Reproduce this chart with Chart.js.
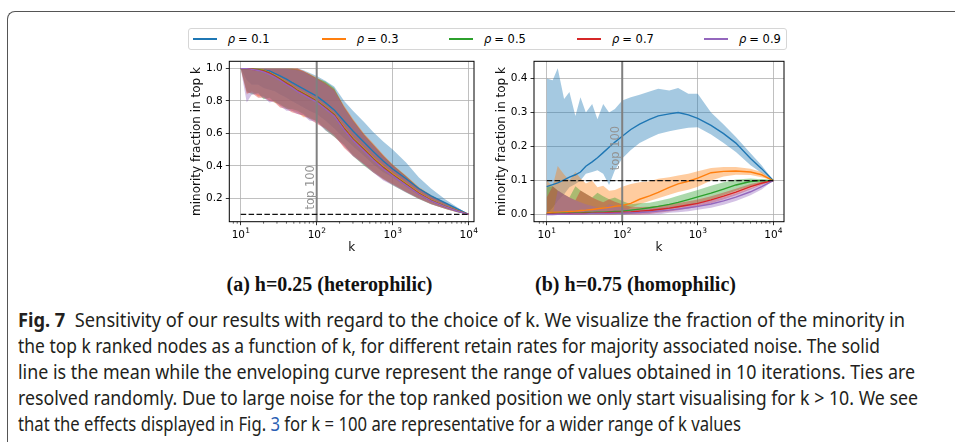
<!DOCTYPE html>
<html>
<head>
<meta charset="utf-8">
<script src="https://cdn.jsdelivr.net/npm/chart.js@4.4.1/dist/chart.umd.min.js"></script>
<style>
  body { margin: 0; width: 955px; height: 442px; overflow: hidden; background: #fff; position: relative; font-family: "DejaVu Sans", sans-serif; }
  .frame { position: absolute; left: 7px; top: 11px; width: 1000px; height: 500px; border-top: 1.3px solid #555; border-left: 1.3px solid #555; border-top-left-radius: 8px; }
  #legend { position: absolute; left: 188px; top: 28px; width: 597px; height: 20px; border: 1px solid #d6d6d6; border-radius: 3px; background: #fff; }
  .item { position: absolute; top: 0; height: 20px; display: flex; align-items: center; font-size: 11.5px; color: #000; white-space: nowrap; }
  .item .sw { width: 24px; height: 1.7px; margin-right: 11px; }
  .item i { margin-right: 3px; }
  canvas { position: absolute; }
  .sub { position: absolute; top: 273px; font-family: "Liberation Serif", serif; font-weight: bold; font-size: 20px; transform: translateX(-50%); white-space: nowrap; color: #111; }
  .cap { position: absolute; left: 18px; font-family: "Liberation Sans Narrow", "Noto Sans", sans-serif; font-size: 19px; line-height: 26px; color: #231f20; white-space: nowrap; transform-origin: 0 0; }
  .cap b { font-weight: bold; }
  .cap .ref { color: #2b5fb4; }
</style>
</head>
<body>
<div class="frame"></div>
<div id="legend"></div>
<canvas id="chartL" width="300" height="210" style="left:180px;top:52px"></canvas>
<canvas id="chartR" width="305" height="210" style="left:485px;top:52px"></canvas>
<div class="sub" style="left:329.5px">(a) h=0.25 (heterophilic)</div>
<div class="sub" style="left:635.5px">(b) h=0.75 (homophilic)</div>
<div class="cap" style="top:307px" data-w="887"><b>Fig. 7</b>&nbsp; Sensitivity of our results with regard to the choice of k. We visualize the fraction of the minority in</div>
<div class="cap" style="top:333px" data-w="862">the top k ranked nodes as a function of k, for different retain rates for majority associated noise. The solid</div>
<div class="cap" style="top:359px" data-w="897">line is the mean while the enveloping curve represent the range of values obtained in 10 iterations. Ties are</div>
<div class="cap" style="top:385px" data-w="900">resolved randomly. Due to large noise for the top ranked position we only start visualising for k &gt; 10. We see</div>
<div class="cap" style="top:411px" data-w="723">that the effects displayed in Fig. <span class="ref">3</span> for k = 100 are representative for a wider range of k values</div>

<script>
// k values (x) shared by both panels
const K = [10, 12, 14, 17, 20, 24, 28, 33, 40, 47, 56, 67, 80, 100, 130, 170, 230, 300, 420, 550, 750, 1000, 1500, 2200, 3200, 5000, 7000, 10000];
const RHO = ['0.1', '0.3', '0.5', '0.7', '0.9'];
const COLORS = ['#1f77b4', '#ff7f0e', '#2ca02c', '#d62728', '#9467bd'];
const MAJOR_K = [10, 100, 1000, 10000];
const MINOR_K = [8, 9, 20, 30, 40, 50, 60, 70, 80, 90, 200, 300, 400, 500, 600, 700, 800, 900, 2000, 3000, 4000, 5000, 6000, 7000, 8000, 9000];
const BASE = 0.1;      // dashed reference level
const TOP_K = 100;     // vertical marker
const TOP_LABEL_Y = 0.13;

// (a) h=0.25 heterophilic
const L_MEAN = [
  [1.0, 1.0, 1.0, 0.995, 0.99, 0.985, 0.97, 0.955, 0.935, 0.915, 0.895, 0.875, 0.855, 0.83, 0.79, 0.745, 0.675, 0.615, 0.545, 0.49, 0.43, 0.38, 0.32, 0.26, 0.215, 0.17, 0.135, 0.1],
  [1.0, 1.0, 0.998, 0.995, 0.99, 0.975, 0.958, 0.938, 0.913, 0.893, 0.868, 0.848, 0.828, 0.803, 0.763, 0.718, 0.635, 0.57, 0.505, 0.45, 0.395, 0.35, 0.29, 0.235, 0.19, 0.15, 0.125, 0.1],
  [1.0, 1.0, 0.997, 0.993, 0.987, 0.972, 0.955, 0.935, 0.91, 0.89, 0.865, 0.845, 0.825, 0.8, 0.76, 0.715, 0.63, 0.565, 0.5, 0.445, 0.39, 0.345, 0.285, 0.23, 0.186, 0.148, 0.123, 0.1],
  [1.0, 1.0, 0.996, 0.99, 0.984, 0.97, 0.952, 0.932, 0.907, 0.887, 0.862, 0.842, 0.822, 0.797, 0.757, 0.712, 0.627, 0.562, 0.497, 0.442, 0.387, 0.342, 0.282, 0.228, 0.185, 0.147, 0.122, 0.1],
  [1.0, 1.0, 0.995, 0.988, 0.98, 0.965, 0.948, 0.927, 0.902, 0.882, 0.858, 0.838, 0.818, 0.793, 0.752, 0.707, 0.622, 0.557, 0.492, 0.437, 0.382, 0.338, 0.279, 0.226, 0.183, 0.146, 0.121, 0.1]
];
const L_HIGH = [
  [1.0, 1.0, 1.0, 1.0, 1.0, 1.0, 1.0, 1.0, 1.0, 1.0, 1.0, 0.99, 0.975, 0.955, 0.925, 0.89, 0.8, 0.74, 0.67, 0.61, 0.55, 0.5, 0.42, 0.33, 0.26, 0.19, 0.145, 0.1],
  [1.0, 1.0, 1.0, 1.0, 1.0, 1.0, 1.0, 1.0, 1.0, 1.0, 1.0, 0.985, 0.97, 0.945, 0.915, 0.875, 0.77, 0.69, 0.6, 0.54, 0.47, 0.41, 0.34, 0.27, 0.22, 0.17, 0.135, 0.1],
  [1.0, 1.0, 1.0, 1.0, 1.0, 1.0, 1.0, 1.0, 1.0, 1.0, 0.995, 0.98, 0.965, 0.94, 0.92, 0.88, 0.76, 0.68, 0.59, 0.53, 0.46, 0.405, 0.335, 0.265, 0.215, 0.168, 0.133, 0.1],
  [1.0, 1.0, 1.0, 1.0, 1.0, 1.0, 1.0, 1.0, 1.0, 1.0, 1.0, 0.985, 0.965, 0.94, 0.91, 0.87, 0.765, 0.685, 0.595, 0.535, 0.465, 0.405, 0.335, 0.265, 0.215, 0.167, 0.132, 0.1],
  [1.0, 1.0, 1.0, 1.0, 1.0, 1.0, 1.0, 1.0, 1.0, 0.995, 0.99, 0.98, 0.96, 0.935, 0.905, 0.865, 0.755, 0.675, 0.585, 0.525, 0.455, 0.4, 0.33, 0.262, 0.212, 0.165, 0.131, 0.1]
];
const L_LOW = [
  [1.0, 0.93, 0.9, 0.9, 0.88, 0.87, 0.86, 0.84, 0.82, 0.8, 0.78, 0.76, 0.74, 0.72, 0.68, 0.63, 0.57, 0.52, 0.46, 0.41, 0.36, 0.33, 0.27, 0.22, 0.18, 0.145, 0.12, 0.1],
  [1.0, 0.84, 0.86, 0.83, 0.83, 0.8, 0.8, 0.77, 0.76, 0.74, 0.73, 0.7, 0.7, 0.67, 0.63, 0.58, 0.52, 0.47, 0.41, 0.37, 0.32, 0.29, 0.24, 0.2, 0.165, 0.135, 0.115, 0.1],
  [1.0, 0.86, 0.84, 0.85, 0.81, 0.82, 0.79, 0.78, 0.75, 0.75, 0.74, 0.72, 0.69, 0.68, 0.62, 0.58, 0.53, 0.46, 0.4, 0.36, 0.32, 0.28, 0.235, 0.195, 0.163, 0.133, 0.114, 0.1],
  [1.0, 0.85, 0.85, 0.82, 0.82, 0.8, 0.79, 0.76, 0.75, 0.73, 0.72, 0.71, 0.69, 0.66, 0.63, 0.59, 0.51, 0.46, 0.41, 0.36, 0.315, 0.285, 0.238, 0.198, 0.164, 0.134, 0.115, 0.1],
  [1.0, 0.79, 0.84, 0.84, 0.82, 0.79, 0.8, 0.77, 0.74, 0.74, 0.72, 0.71, 0.68, 0.67, 0.62, 0.58, 0.52, 0.46, 0.405, 0.36, 0.31, 0.28, 0.235, 0.196, 0.162, 0.133, 0.114, 0.1]
];

// (b) h=0.75 homophilic
const R_MEAN = [
  [0.082, 0.088, 0.093, 0.102, 0.11, 0.117, 0.125, 0.142, 0.155, 0.167, 0.182, 0.198, 0.213, 0.23, 0.25, 0.266, 0.28, 0.29, 0.296, 0.3, 0.293, 0.283, 0.262, 0.238, 0.21, 0.165, 0.135, 0.1],
  [0.005, 0.006, 0.007, 0.008, 0.009, 0.01, 0.012, 0.013, 0.015, 0.017, 0.019, 0.021, 0.024, 0.027, 0.033, 0.045, 0.055, 0.065, 0.08, 0.09, 0.098, 0.107, 0.123, 0.127, 0.128, 0.125, 0.117, 0.1],
  [0.002, 0.003, 0.003, 0.004, 0.004, 0.005, 0.005, 0.006, 0.006, 0.007, 0.007, 0.008, 0.009, 0.01, 0.013, 0.016, 0.02, 0.024, 0.03, 0.036, 0.044, 0.052, 0.063, 0.075, 0.087, 0.097, 0.1, 0.1],
  [0.001, 0.002, 0.002, 0.002, 0.003, 0.003, 0.003, 0.004, 0.004, 0.005, 0.005, 0.006, 0.006, 0.007, 0.008, 0.01, 0.012, 0.015, 0.019, 0.023, 0.028, 0.033, 0.043, 0.054, 0.066, 0.082, 0.092, 0.1],
  [0.0, 0.0, 0.001, 0.001, 0.001, 0.002, 0.002, 0.002, 0.003, 0.003, 0.003, 0.003, 0.004, 0.004, 0.005, 0.006, 0.008, 0.01, 0.013, 0.016, 0.02, 0.024, 0.031, 0.04, 0.051, 0.067, 0.082, 0.1]
];
const R_HIGH = [
  [0.4, 0.395, 0.43, 0.34, 0.36, 0.29, 0.345, 0.3, 0.325, 0.28, 0.325, 0.3, 0.31, 0.335, 0.345, 0.352, 0.362, 0.37, 0.365, 0.372, 0.355, 0.355, 0.3, 0.265, 0.228, 0.18, 0.145, 0.1],
  [0.1, 0.083, 0.143, 0.118, 0.1, 0.125, 0.107, 0.091, 0.1, 0.08, 0.085, 0.07, 0.072, 0.082, 0.09, 0.095, 0.098, 0.105, 0.11, 0.115, 0.12, 0.127, 0.137, 0.14, 0.14, 0.135, 0.125, 0.1],
  [0.08, 0.083, 0.071, 0.059, 0.05, 0.083, 0.071, 0.061, 0.05, 0.064, 0.054, 0.045, 0.05, 0.04, 0.03, 0.033, 0.035, 0.04, 0.047, 0.055, 0.064, 0.072, 0.085, 0.095, 0.103, 0.106, 0.104, 0.1],
  [0.05, 0.083, 0.071, 0.059, 0.05, 0.042, 0.071, 0.061, 0.05, 0.043, 0.036, 0.045, 0.038, 0.03, 0.023, 0.022, 0.023, 0.026, 0.03, 0.034, 0.039, 0.044, 0.054, 0.065, 0.076, 0.09, 0.097, 0.1],
  [0.0, 0.0, 0.071, 0.059, 0.05, 0.042, 0.036, 0.03, 0.025, 0.021, 0.018, 0.03, 0.025, 0.02, 0.015, 0.014, 0.016, 0.019, 0.022, 0.026, 0.03, 0.034, 0.042, 0.051, 0.062, 0.077, 0.089, 0.1]
];
const R_LOW = [
  [0.0, 0.02, 0.04, 0.06, 0.08, 0.09, 0.1, 0.12, 0.125, 0.13, 0.12, 0.087, 0.13, 0.165, 0.19, 0.21, 0.225, 0.237, 0.245, 0.25, 0.255, 0.257, 0.235, 0.21, 0.184, 0.145, 0.122, 0.1],
  [0, 0, 0, 0, 0, 0, 0, 0, 0, 0, 0, 0, 0, 0.005, 0.02, 0.03, 0.04, 0.048, 0.058, 0.066, 0.073, 0.082, 0.1, 0.112, 0.117, 0.116, 0.11, 0.1],
  [0, 0, 0, 0, 0, 0, 0, 0, 0, 0, 0, 0, 0, 0, 0.002, 0.005, 0.008, 0.012, 0.016, 0.021, 0.028, 0.034, 0.045, 0.057, 0.07, 0.084, 0.093, 0.1],
  [0, 0, 0, 0, 0, 0, 0, 0, 0, 0, 0, 0, 0, 0, 0, 0, 0.002, 0.005, 0.009, 0.013, 0.018, 0.023, 0.033, 0.044, 0.057, 0.074, 0.087, 0.1],
  [0, 0, 0, 0, 0, 0, 0, 0, 0, 0, 0, 0, 0, 0, 0, 0, 0, 0, 0.005, 0.007, 0.01, 0.014, 0.02, 0.029, 0.04, 0.057, 0.074, 0.1]
];

const L_YTICKS = [0.2, 0.4, 0.6, 0.8, 1.0];
const R_YTICKS = [0.0, 0.1, 0.2, 0.3, 0.4];

function pts(vals) {
  return vals.map((v, i) => ({ x: K[i], y: v }));
}

function rgba(hex, a) {
  const n = parseInt(hex.slice(1), 16);
  return `rgba(${(n >> 16) & 255}, ${(n >> 8) & 255}, ${n & 255}, ${a})`;
}

// frame, minor ticks, 10^n labels and the "top 100" label
const decor = {
  id: 'decor',
  afterDraw(chart) {
    const { ctx, chartArea: a, scales: { x, y } } = chart;
    ctx.save();
    ctx.strokeStyle = '#000';
    ctx.lineWidth = 0.6;
    MINOR_K.forEach(v => {
      if (v < x.min || v > x.max) return;
      const px = x.getPixelForValue(v);
      ctx.beginPath();
      ctx.moveTo(px, a.bottom);
      ctx.lineTo(px, a.bottom + 2);
      ctx.stroke();
    });
    ctx.lineWidth = 1;
    ctx.strokeRect(a.left, a.top, a.right - a.left, a.bottom - a.top);

    // log tick labels drawn as 10 with a raised exponent
    ctx.fillStyle = '#000';
    ctx.textBaseline = 'alphabetic';
    ctx.textAlign = 'left';
    MAJOR_K.forEach(v => {
      const base = '10', exp = String(Math.round(Math.log10(v)));
      ctx.font = '10.5px "DejaVu Sans"';
      const wb = ctx.measureText(base).width;
      ctx.font = '7.5px "DejaVu Sans"';
      const we = ctx.measureText(exp).width;
      const x0 = x.getPixelForValue(v) - (wb + we) / 2;
      const yb = a.bottom + 15.8;
      ctx.font = '10.5px "DejaVu Sans"';
      ctx.fillText(base, x0, yb);
      ctx.font = '7.5px "DejaVu Sans"';
      ctx.fillText(exp, x0 + wb + 0.3, yb - 4.5);
    });

    ctx.translate(x.getPixelForValue(TOP_K) - 3, y.getPixelForValue(TOP_LABEL_Y));
    ctx.rotate(-Math.PI / 2);
    ctx.fillStyle = '#939393';
    ctx.font = '11.5px "DejaVu Sans"';
    ctx.fillText('top 100', 0, 0);
    ctx.restore();
  }
};

const tickFont = { family: 'DejaVu Sans', size: 10.5 };
const titleFont = { family: 'DejaVu Sans', size: 12 };

function buildChart(id, means, highs, lows, xRange, yRange, yTicks, yWidth) {
  const datasets = [];
  RHO.forEach((r, i) => {
    const order = RHO.length - i;
    datasets.push({ label: 'ρ = ' + r, data: pts(means[i]), borderColor: COLORS[i], borderWidth: 1.4, pointRadius: 0, fill: false, order });
    datasets.push({ label: 'max', data: pts(highs[i]), borderColor: 'transparent', borderWidth: 0, pointRadius: 0, fill: '+1', backgroundColor: rgba(COLORS[i], 0.4), order });
    datasets.push({ label: 'min', data: pts(lows[i]), borderColor: 'transparent', borderWidth: 0, pointRadius: 0, fill: false, order });
  });
  datasets.push({ label: 'base', data: [{ x: K[0], y: BASE }, { x: K[K.length - 1], y: BASE }], borderColor: '#111', borderWidth: 1.3, borderDash: [5.5, 2.4], pointRadius: 0, fill: false, order: 0 });
  datasets.push({ label: 'top', data: [{ x: TOP_K, y: yRange[0] }, { x: TOP_K, y: yRange[1] }], borderColor: '#808080', borderWidth: 2, pointRadius: 0, fill: false, order: 0 });

  return new Chart(document.getElementById(id), {
    type: 'line',
    data: { datasets },
    plugins: [decor],
    options: {
      responsive: false,
      animation: false,
      events: [],
      layout: { padding: { left: 8, top: 8, right: 6, bottom: 2 } },
      plugins: {
        legend: { display: false },
        tooltip: { enabled: false },
        filler: { drawTime: 'beforeDatasetsDraw', propagate: false }
      },
      scales: {
        x: {
          type: 'logarithmic',
          min: xRange[0],
          max: xRange[1],
          afterBuildTicks: s => { s.ticks = MAJOR_K.map(v => ({ value: v })); },
          afterFit: s => { s.height = 38.3; },
          ticks: { display: false, autoSkip: false, maxRotation: 0 },
          grid: { color: '#b0b0b0', lineWidth: 0.8, tickColor: '#000', tickLength: 3.5, tickWidth: 0.8 },
          border: { display: false },
          title: { display: true, text: 'k', color: '#111', font: titleFont, padding: { top: 0, bottom: 4.8 } }
        },
        y: {
          type: 'linear',
          min: yRange[0],
          max: yRange[1],
          afterBuildTicks: s => { s.ticks = yTicks.map(v => ({ value: v })); },
          afterFit: s => { s.width = yWidth; },
          ticks: { padding: 3, color: '#000', font: tickFont, callback: v => v.toFixed(1) },
          grid: { color: '#b0b0b0', lineWidth: 0.8, tickColor: '#000', tickLength: 3.5, tickWidth: 0.8 },
          border: { display: false },
          title: { display: true, text: 'minority fraction in top k', color: '#111', font: titleFont, padding: { top: 1.8, bottom: 0 } }
        }
      }
    }
  });
}

buildChart('chartL', L_MEAN, L_HIGH, L_LOW, [Math.pow(10, 0.85), Math.pow(10, 4.07)], [0.055, 1.045], L_YTICKS, 41.3);
buildChart('chartR', R_MEAN, R_HIGH, R_LOW, [Math.pow(10, 0.832), Math.pow(10, 4.142)], [-0.021, 0.4505], R_YTICKS, 41);

// shared legend above both panels
const legend = document.getElementById('legend');
const LEGEND_X = [3.7, 132.7, 260, 388, 515];
RHO.forEach((r, i) => {
  const item = document.createElement('div');
  item.className = 'item';
  item.style.left = LEGEND_X[i] + 'px';
  const sw = document.createElement('div');
  sw.className = 'sw';
  sw.style.background = COLORS[i];
  item.appendChild(sw);
  const label = document.createElement('span');
  label.innerHTML = `<i>ρ</i>= ${r}`;
  item.appendChild(label);
  legend.appendChild(item);
});

// squeeze caption lines to the widths of the printed lines
document.querySelectorAll('.cap').forEach(el => {
  const w = el.getBoundingClientRect().width;
  el.style.transform = `scaleX(${+el.dataset.w / w})`;
});
</script>
</body>
</html>
